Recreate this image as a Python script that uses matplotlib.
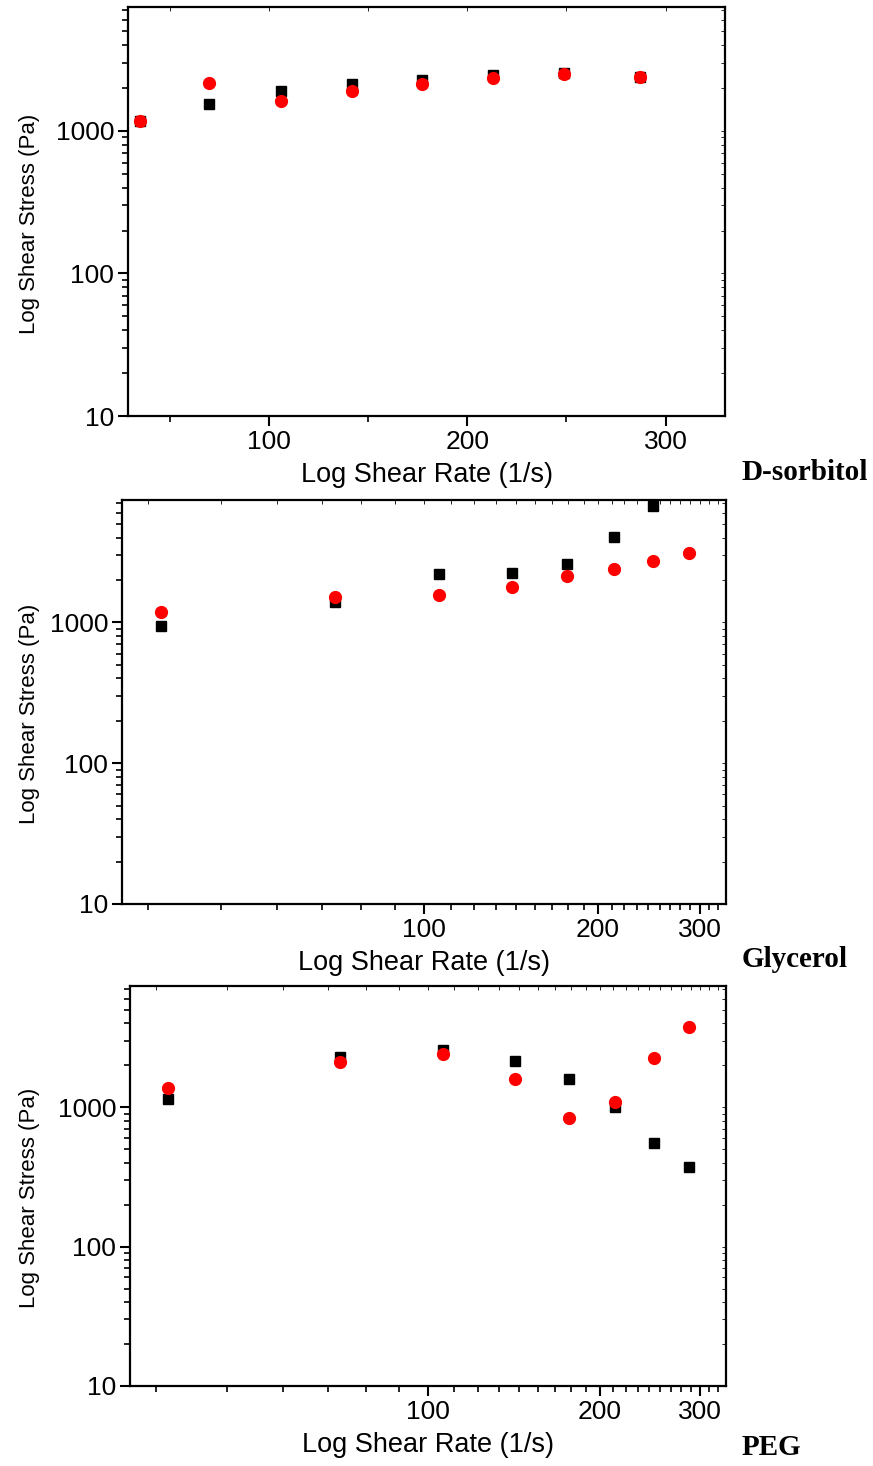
import numpy as np
import matplotlib.pyplot as plt
import matplotlib.lines as mlines
from matplotlib.ticker import FixedLocator, NullFormatter, LogLocator

plt.rcParams['font.family'] = ['Liberation Sans', 'DejaVu Sans']

# shear rates (1/s)
rate = [35, 70, 106, 142, 177, 213, 249, 287]

# D-sorbitol
sorb_sq = [1175, 1545, 1905, 2130, 2275, 2465, 2545, 2385]
sorb_ci = [1175, 2165, 1620, 1905, 2130, 2345, 2500, 2385]

# Glycerol (squares have no point at the last rate)
gly_sq = [937, 1388, 2196, 2232, 2587, 4024, 6687]
gly_ci = [1178, 1506, 1556, 1775, 2125, 2385, 2715, 3097]

# PEG
peg_sq = [1141, 2281, 2561, 2135, 1587, 1000, 552, 372]
peg_ci = [1368, 2101, 2398, 1587, 834, 1086, 2245, 3740]

names = ['D-sorbitol', 'Glycerol', 'PEG']

fig = plt.figure(figsize=(8.73, 14.66), dpi=100)

# axes boxes [left, bottom, width, height]
boxes = [[0.1466, 0.7162, 0.6839, 0.2790],
         [0.1397, 0.3834, 0.6919, 0.2755],
         [0.1489, 0.0546, 0.6827, 0.2728]]
# sample name positions (figure fraction)
name_y = [0.6774, 0.3452, 0.0123]

panels = [(sorb_sq, sorb_ci), (gly_sq, gly_ci), (peg_sq, peg_ci)]

for k, (sq, ci) in enumerate(panels):
    ax = fig.add_axes(boxes[k])
    ax.plot(rate[:len(sq)], sq, 's', color='black', ms=7, zorder=3)
    ax.plot(rate[:len(ci)], ci, 'o', color='red', ms=8.5, zorder=4)

    ax.set_yscale('log')
    ax.set_ylim(10, 7400)
    ax.yaxis.set_major_locator(FixedLocator([10, 100, 1000]))
    ax.yaxis.set_minor_locator(LogLocator(base=10, subs=np.arange(2, 10)))
    ax.yaxis.set_minor_formatter(NullFormatter())
    ax.set_yticklabels(['10', '100', '1000'])

    if k == 0:
        ax.set_xlim(29, 330)
        ax.xaxis.set_major_locator(FixedLocator([100, 200, 300]))
        ax.xaxis.set_minor_locator(FixedLocator([50, 150, 250]))
    else:
        ax.set_xscale('log')
        ax.set_xlim(30, 333)
        ax.xaxis.set_major_locator(FixedLocator([100, 200, 300]))
        ax.xaxis.set_minor_locator(FixedLocator(
            [m * 100 / 9 for m in range(3, 31) if m % 9 != 0]))
        ax.xaxis.set_minor_formatter(NullFormatter())
    ax.set_xticklabels(['100', '200', '300'])

    ax.tick_params(which='major', direction='out', length=7, width=1.5,
                   labelsize=19, pad=3, color='black')
    ax.tick_params(which='minor', direction='out', length=4, width=1.2)
    ax.tick_params(which='both', top=True, right=True,
                   labeltop=False, labelright=False)

    for s in ax.spines.values():
        s.set_linewidth(1.6)

    ax.set_ylabel('Log Shear Stress (Pa)', fontsize=16)
    # label sits a bit below the axes centre, as in the source figure
    left_px = boxes[k][0] * 873
    w_px = boxes[k][2] * 873
    ax.yaxis.set_label_coords((40 - left_px) / w_px, 0.47)
    ax.set_xlabel('Log Shear Rate (1/s)', fontsize=19.5, labelpad=6)

    fig.text(0.849, name_y[k], names[k], fontsize=21, fontweight='bold',
             family='Liberation Serif', ha='left', va='center')

    # small faint inward ticks on the top and right sides
    for tl in ax.xaxis.get_majorticklines()[1::2] + ax.xaxis.get_minorticklines()[1::2]:
        tl.set_marker(mlines.TICKDOWN)
        tl.set_markersize(3)
        tl.set_markeredgewidth(0.6)
        tl.set_color('0.45')
    for tl in ax.yaxis.get_majorticklines()[1::2] + ax.yaxis.get_minorticklines()[1::2]:
        tl.set_marker(mlines.TICKLEFT)
        tl.set_markersize(3)
        tl.set_markeredgewidth(0.6)
        tl.set_color('0.45')

fig.savefig('out.png', dpi=100)
